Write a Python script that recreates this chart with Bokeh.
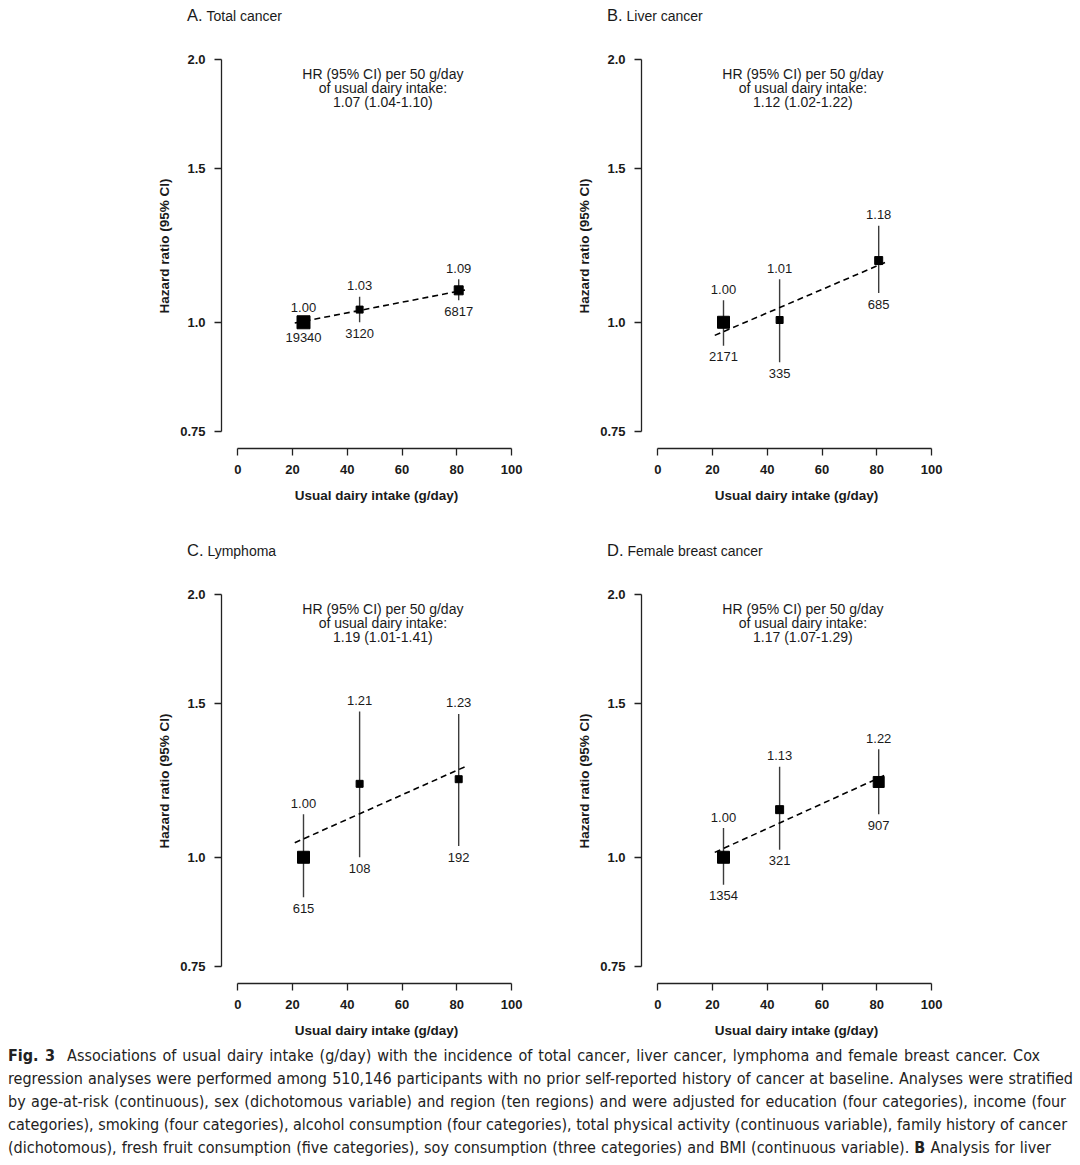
from bokeh.plotting import figure
from bokeh.layouts import column, row
from bokeh.models import FixedTicker, CustomJSTickFormatter, Div, Spacer, ColumnDataSource
from bokeh.embed import file_html
from bokeh.resources import INLINE
from bokeh.core.properties import value

# ---------------- data ----------------
panel_letters = ["A.", "B.", "C.", "D."]
panel_titles = ["Total cancer", "Liver cancer", "Lymphoma", "Female breast cancer"]
intake_x = [24.0, 44.5, 80.7]          # mean usual dairy intake (g/day) per group

hr_A = [1.00, 1.034, 1.088]; lo_A = [0.99, 1.00, 1.06]; hi_A = [1.01, 1.07, 1.12]; cases_A = [19340, 3120, 6817]
hr_B = [1.00, 1.006, 1.177]; lo_B = [0.94, 0.90, 1.08]; hi_B = [1.06, 1.12, 1.29]; cases_B = [2171, 335, 685]
hr_C = [1.00, 1.214, 1.229]; lo_C = [0.90, 1.00, 1.03]; hi_C = [1.12, 1.47, 1.46]; cases_C = [615, 108, 192]
hr_D = [1.00, 1.134, 1.220]; lo_D = [0.93, 1.02, 1.12]; hi_D = [1.08, 1.27, 1.33]; cases_D = [1354, 321, 907]

trend_x = [20.8, 83.0]
trend_A = [0.998, 1.089]
trend_B = [0.966, 1.171]
trend_C = [1.039, 1.270]
trend_D = [1.013, 1.242]

per50_text = ["1.07 (1.04-1.10)", "1.12 (1.02-1.22)", "1.19 (1.01-1.41)", "1.17 (1.07-1.29)"]

y_ticks = [0.75, 1.0, 1.5, 2.0]
x_ticks = [0, 20, 40, 60, 80, 100]

# ---------------- style ----------------
box_sizes = [[13, 7, 9], [12, 7, 8], [12, 7, 7], [12, 8, 11]]
FONT = "Liberation Sans"
TXT = "#1a1a1a"


def make_panel(k, hr, lo, hi, cases, trend_y, bottom_border):
    p = figure(frame_width=310, frame_height=405,
               min_border_left=81, min_border_right=29, min_border_top=10,
               min_border_bottom=bottom_border,
               y_axis_type="log", x_range=(-5.96, 107.3), y_range=(0.7165, 2.088),
               output_backend="svg", toolbar_location=None)
    p.grid.visible = False
    p.outline_line_color = None
    p.background_fill_color = "white"
    p.border_fill_color = "white"

    p.xaxis.ticker = FixedTicker(ticks=x_ticks)
    p.xaxis.bounds = (0, 100)
    p.yaxis.ticker = FixedTicker(ticks=y_ticks, minor_ticks=[])
    p.yaxis.bounds = (0.75, 2.0)
    p.yaxis.formatter = CustomJSTickFormatter(code="return tick < 0.8 ? tick.toFixed(2) : tick.toFixed(1);")
    p.axis.minor_tick_line_color = None
    p.axis.major_tick_in = 0
    p.axis.major_tick_out = 7
    p.axis.axis_line_color = "#222222"
    p.axis.major_tick_line_color = "#222222"
    p.axis.axis_line_width = 1.3
    p.axis.major_tick_line_width = 1.3
    p.axis.major_label_text_font = FONT
    p.axis.major_label_text_font_style = "bold"
    p.axis.major_label_text_font_size = "13px"
    p.axis.major_label_text_color = TXT
    p.axis.axis_label_text_font = FONT
    p.axis.axis_label_text_font_style = "bold"
    p.axis.axis_label_text_font_size = "13.5px"
    p.axis.axis_label_text_color = TXT
    p.xaxis.major_label_standoff = 9
    p.xaxis.axis_label_standoff = 11
    p.yaxis.major_label_standoff = 9
    p.yaxis.axis_label_standoff = 5
    p.yaxis.major_label_orientation = "horizontal"
    p.xaxis.axis_label = "Usual dairy intake (g/day)"
    p.yaxis.axis_label = "Hazard ratio (95% CI)"

    src = ColumnDataSource(dict(
        x=intake_x, hr=hr, lo=lo, hi=hi,
        hr_lbl=["%.2f" % v for v in hr],
        n_lbl=[str(c) for c in cases],
        size=box_sizes[k]))

    p.segment(x0="x", y0="lo", x1="x", y1="hi", source=src, line_color="#3c3c3c", line_width=1.4)
    p.line(trend_x, trend_y, line_color="black", line_width=1.6, line_dash="6 4")
    p.scatter(x="x", y="hr", size="size", marker="square", source=src,
              fill_color="black", line_color="black")

    p.text(x="x", y="hi", text="hr_lbl", source=src, text_align="center", text_baseline="middle",
           y_offset=-11, text_font=value(FONT), text_font_size="13px", text_color=TXT)
    p.text(x="x", y="lo", text="n_lbl", source=src, text_align="center", text_baseline="middle",
           y_offset=11, text_font=value(FONT), text_font_size="13px", text_color=TXT)

    p.text(x=[53], y=[2.0],
           text=["HR (95% CI) per 50 g/day\nof usual dairy intake:\n" + per50_text[k]],
           text_align="center", text_baseline="top", y_offset=6, text_line_height=0.87,
           text_font=value(FONT), text_font_size="14px", text_color=TXT)

    title = Div(text=(
        '<div style="position:relative;width:420px;height:33px;">'
        '<div style="position:absolute;left:47px;top:7px;line-height:17px;white-space:nowrap;'
        'font-family:\'Liberation Sans\',Arial,sans-serif;color:%s;">'
        '<span style="font-size:16.5px;">%s</span>'
        '<span style="font-size:14px;">&nbsp;%s</span></div></div>') % (TXT, panel_letters[k], panel_titles[k]),
        width=420, height=33, margin=(0, 0, 0, 0))
    return column(title, p, spacing=0)


pA = make_panel(0, hr_A, lo_A, hi_A, cases_A, trend_A, 87)
pB = make_panel(1, hr_B, lo_B, hi_B, cases_B, trend_B, 87)
pC = make_panel(2, hr_C, lo_C, hi_C, cases_C, trend_C, 58)
pD = make_panel(3, hr_D, lo_D, hi_D, cases_D, trend_D, 58)

caption_lines = [
    "<b>Fig. 3</b>&nbsp; Associations of usual dairy intake (g/day) with the incidence of total cancer, liver cancer, lymphoma and female breast cancer. Cox",
    "regression analyses were performed among 510,146 participants with no prior self-reported history of cancer at baseline. Analyses were stratified",
    "by age-at-risk (continuous), sex (dichotomous variable) and region (ten regions) and were adjusted for education (four categories), income (four",
    "categories), smoking (four categories), alcohol consumption (four categories), total physical activity (continuous variable), family history of cancer",
    "(dichotomous), fresh fruit consumption (five categories), soy consumption (three categories) and BMI (continuous variable). <b>B</b> Analysis for liver",
]
line_widths = [1032, 1065, 1058, 1058, 1043]
html = "".join(
    '<div style="white-space:nowrap;width:%dpx;text-align:justify;text-align-last:justify;height:23px;line-height:23px;">%s</div>'
    % (w, t) for t, w in zip(caption_lines, line_widths))
caption = Div(text='<div style="padding-left:8px;font-family:\'DejaVu Sans Condensed\',\'DejaVu Sans\',sans-serif;'
                   'font-stretch:condensed;font-size:16px;color:#222;">' + html + '</div>',
              width=1075, height=118, margin=(3, 0, 0, 0))

layout = column(row(Spacer(width=140, height=10), pA, pB),
                row(Spacer(width=140, height=10), pC, pD),
                caption)

open("out.html", "w").write(file_html(layout, INLINE))
